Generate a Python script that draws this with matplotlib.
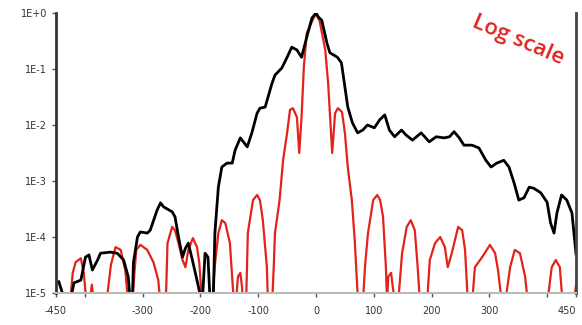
import numpy as np
import matplotlib.pyplot as plt

# black curve: measured profile (x, log10 intensity)
black_x = [-445, -433, -426, -419, -407, -399, -393, -387, -378, -373, -356, -344, -333, -325,
           -321, -318, -316, -309, -304, -292, -287, -281, -275, -269, -264, -249, -244, -238,
           -231, -226, -221, -214, -206, -197, -192, -187, -183, -178, -175, -169, -163, -154,
           -145, -140, -131, -119, -111, -102, -97, -88, -83, -76, -71, -59, -50, -42, -33, -25,
           -16, -7, 0, 4, 10, 19, 24, 37, 44, 50, 55, 63, 72, 81, 89, 101, 110, 119, 127, 136,
           148, 156, 167, 182, 196, 208, 222, 231, 239, 248, 256, 270, 282, 294, 303, 313, 325,
           334, 343, 351, 360, 369, 377, 389, 400, 406, 412, 417, 425, 434, 443, 450]
black_log = [-4.80, -5.2, -5.2, -4.82, -4.77, -4.36, -4.32, -4.59, -4.41, -4.29, -4.27, -4.29,
             -4.41, -4.71, -5.2, -5.2, -4.46, -4.0, -3.91, -3.93, -3.88, -3.70, -3.52, -3.39,
             -3.46, -3.55, -3.64, -4.0, -4.36, -4.20, -4.11, -4.41, -4.77, -5.2, -4.29, -4.36,
             -5.2, -5.2, -3.93, -3.11, -2.75, -2.68, -2.68, -2.45, -2.23, -2.39, -2.14, -1.79,
             -1.70, -1.68, -1.50, -1.25, -1.11, -0.98, -0.79, -0.61, -0.66, -0.79, -0.43, -0.09,
             0.0, -0.07, -0.13, -0.54, -0.71, -0.79, -0.89, -1.32, -1.68, -1.96, -2.14, -2.09,
             -2.0, -2.05, -1.91, -1.82, -2.09, -2.21, -2.09, -2.18, -2.27, -2.14, -2.30, -2.21,
             -2.23, -2.21, -2.12, -2.23, -2.36, -2.36, -2.41, -2.63, -2.75, -2.68, -2.63, -2.75,
             -3.04, -3.34, -3.30, -3.11, -3.13, -3.21, -3.38, -3.75, -3.93, -3.57, -3.25, -3.34,
             -3.57, -4.3]

# red curve: theoretical diffraction pattern (x, log10 intensity)
red_x = [-430, -426, -421, -416, -407, -402, -397, -392, -388, -384, -363, -355, -347, -338,
         -330, -325, -318, -314, -311, -304, -292, -281, -273, -269, -260, -257, -249, -244,
         -238, -231, -226, -221, -213, -206, -202, -197, -180, -175, -169, -163, -157, -149,
         -144, -142, -139, -135, -131, -128, -126, -121, -118, -109, -102, -97, -92, -85, -83,
         -76, -73, -71, -63, -57, -50, -45, -40, -33, -29, -25, -21, -16, -6, -2, 0, 6, 16,
         21, 28, 33, 38, 45, 50, 55, 62, 67, 73, 81, 85, 90, 99, 106, 111, 116, 121, 123, 125,
         130, 133, 137, 142, 149, 157, 164, 171, 176, 180, 192, 197, 206, 215, 223, 228, 235,
         246, 253, 258, 263, 270, 275, 284, 292, 301, 310, 315, 322, 327, 336, 344, 353, 362,
         367, 400, 408, 415, 422, 427, 446, 452]
red_log = [-5.2, -5.2, -4.64, -4.45, -4.38, -4.64, -5.2, -5.2, -4.85, -5.2, -5.2, -4.5, -4.18,
           -4.23, -4.6, -5.2, -5.2, -4.6, -4.23, -4.14, -4.23, -4.46, -4.77, -5.2, -5.2, -4.11,
           -3.82, -3.88, -4.11, -4.41, -4.54, -4.23, -4.02, -4.18, -4.46, -5.2, -5.2, -4.5,
           -3.93, -3.70, -3.75, -4.11, -4.89, -5.2, -5.2, -4.71, -4.64, -4.9, -5.2, -5.2, -3.93,
           -3.34, -3.25, -3.34, -3.70, -4.54, -5.2, -5.2, -4.5, -3.93, -3.34, -2.63, -2.14,
           -1.73, -1.70, -1.86, -2.5, -1.86, -0.96, -0.36, -0.13, -0.04, -0.03, -0.13, -0.66,
           -1.25, -2.5, -1.79, -1.70, -1.77, -2.14, -2.75, -3.34, -4.05, -5.2, -5.2, -4.5,
           -3.93, -3.34, -3.25, -3.34, -3.64, -4.54, -5.2, -4.71, -4.64, -4.9, -5.2, -5.2,
           -4.29, -3.82, -3.70, -3.88, -4.54, -5.2, -5.2, -4.41, -4.11, -4.0, -4.18, -4.54,
           -4.29, -3.82, -3.88, -4.23, -5.2, -5.2, -4.54, -4.41, -4.29, -4.14, -4.29, -4.59,
           -5.2, -5.2, -4.54, -4.23, -4.29, -4.71, -5.2, -5.2, -4.54, -4.41, -4.54, -5.2, -5.2,
           -4.7]

xticks = [-450, -300, -200, -100, 0, 100, 200, 300, 450]
xtick_labels = ['-450', '-300', '-200', '-100', '0', '100', '200', '300', '450']
minor_xticks = [-400, 400]
yticks = [1e0, 1e-1, 1e-2, 1e-3, 1e-4, 1e-5]
ytick_labels = ['1E+0', '1E-1', '1E-2', '1E-3', '1E-4', '1E-5']

fig = plt.figure(figsize=(5.82, 3.25), dpi=100)
ax = fig.add_axes([56 / 582, 1 - 293 / 325, 520 / 582, 280 / 325])

ax.plot(red_x, 10 ** np.array(red_log), color='#e2231a', linewidth=1.6)
ax.plot(black_x, 10 ** np.array(black_log), color='black', linewidth=2.0)

ax.set_yscale('log')
ax.set_xlim(-450, 450)
ax.set_ylim(1e-5, 1.0)

ax.set_xticks(xticks)
ax.set_xticklabels(xtick_labels)
ax.set_xticks(minor_xticks, minor=True)
ax.set_yticks(yticks)
ax.set_yticklabels(ytick_labels)
ax.yaxis.set_minor_locator(plt.NullLocator())

ax.tick_params(axis='both', which='both', direction='out', length=3, width=1,
               colors='#555555', labelsize=7, labelcolor='#333333')
ax.tick_params(axis='x', pad=6)
# keep the last label inside the figure
ax.get_xticklabels()[-1].set_horizontalalignment('right')
ax.get_xticklabels()[-1].set_x(446)

ax.spines['top'].set_visible(False)
ax.spines['left'].set_color('#333333')
ax.spines['left'].set_linewidth(2)
ax.spines['right'].set_color('#444444')
ax.spines['right'].set_linewidth(2)
ax.spines['bottom'].set_color('#bbbbbb')
ax.spines['bottom'].set_linewidth(1.5)

fig.text(518 / 582, 1 - 40 / 325, 'Log scale', color='#e2231a', fontsize=16,
         family='Open Sans', fontweight='semibold', rotation=-23,
         ha='center', va='center', rotation_mode='anchor')

fig.savefig('out.png', dpi=100)
